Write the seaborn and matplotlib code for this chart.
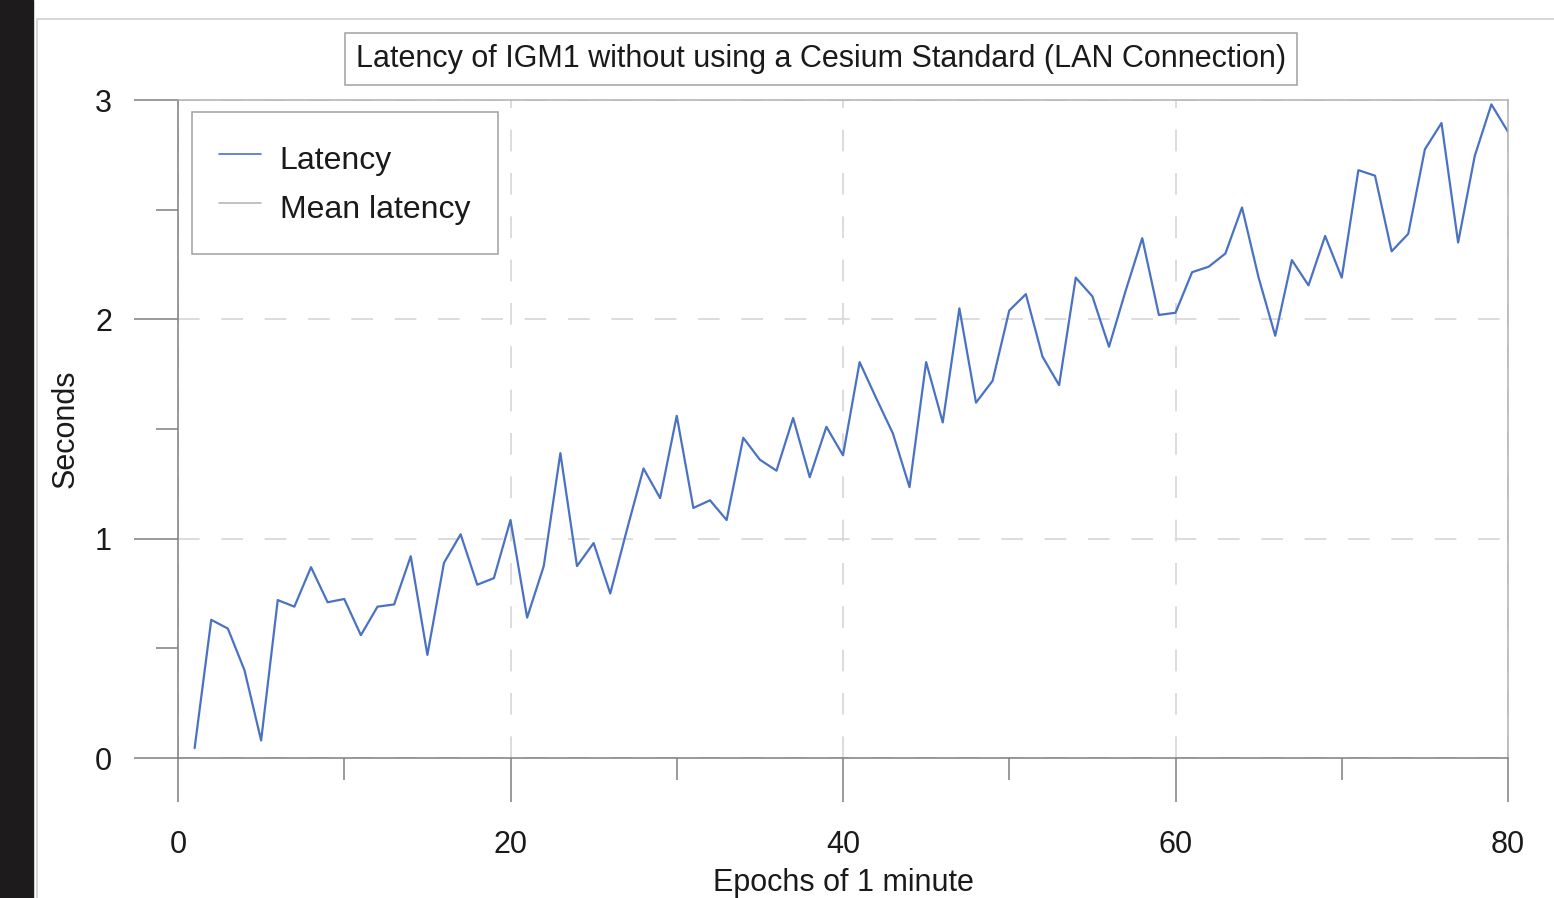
import matplotlib
matplotlib.use("Agg")
import matplotlib.pyplot as plt
from matplotlib.lines import Line2D
from matplotlib.patches import Rectangle
import seaborn as sns
import pandas as pd

# ---- data ----
epochs = list(range(1, 81))
latency = [0.045, 0.63, 0.59, 0.40, 0.08, 0.72, 0.69, 0.87, 0.71, 0.725,
           0.56, 0.69, 0.70, 0.92, 0.47, 0.89, 1.02, 0.79, 0.82, 1.085,
           0.64, 0.875, 1.39, 0.875, 0.98, 0.75, 1.04, 1.32, 1.185, 1.56,
           1.14, 1.175, 1.085, 1.46, 1.36, 1.31, 1.55, 1.28, 1.51, 1.38,
           1.805, 1.64, 1.48, 1.235, 1.805, 1.53, 2.05, 1.62, 1.72, 2.04,
           2.115, 1.83, 1.70, 2.19, 2.105, 1.875, 2.13, 2.37, 2.02, 2.03,
           2.215, 2.24, 2.30, 2.51, 2.19, 1.925, 2.27, 2.155, 2.38, 2.19,
           2.68, 2.655, 2.31, 2.39, 2.775, 2.895, 2.35, 2.745, 2.98, 2.855]
x_major_ticks = [0, 20, 40, 60, 80]
x_minor_ticks = [10, 30, 50, 70]
y_major_ticks = [0, 1, 2, 3]
y_minor_ticks = [0.5, 1.5, 2.5]
series_labels = ["Latency", "Mean latency"]
title = "Latency of IGM1 without using a Cesium Standard (LAN Connection)"
xlabel = "Epochs of 1 minute"
ylabel = "Seconds"

df = pd.DataFrame({"epoch": epochs, "latency": latency})

sns.set_theme(style="white")
plt.rcParams["font.family"] = ["Liberation Sans", "DejaVu Sans"]

W, H = 1554, 898
fig = plt.figure(figsize=(W / 100, H / 100), dpi=100, facecolor="white")
ax = fig.add_axes([178 / W, (H - 758) / H, (1508 - 178) / W, (758 - 100) / H])

blue = "#4a72c4"
light = "#d6d6d6"
txt = "#1a1a1a"
sns.lineplot(data=df, x="epoch", y="latency", ax=ax, color=blue,
             linewidth=1.6, legend=False)

ax.set_xlim(0, 80)
ax.set_ylim(0, 3)
ax.set_xticks(x_major_ticks)
ax.set_xticks(x_minor_ticks, minor=True)
ax.set_yticks(y_major_ticks)
ax.set_yticks(y_minor_ticks, minor=True)

tick_col = "#7f7f7f"
ax.tick_params(axis="both", which="both", bottom=True, left=True,
               top=False, right=False)
ax.tick_params(axis="both", which="major", direction="out", length=31.5,
               width=1.1, color=tick_col, labelsize=22, labelcolor=txt)
ax.tick_params(axis="both", which="minor", direction="out", length=15.5,
               width=1.1, color=tick_col)
ax.tick_params(axis="x", which="major", pad=20)
ax.tick_params(axis="y", which="major", pad=16)

for s in ["left", "bottom"]:
    ax.spines[s].set_color(tick_col)
    ax.spines[s].set_linewidth(1.1)
for s in ["top", "right"]:
    ax.spines[s].set_color("#b0b0b0")
    ax.spines[s].set_linewidth(1.1)

ax.grid(True, which="major", color=light, linewidth=1.2,
        linestyle=(0, (13, 13)))
ax.set_axisbelow(True)

ax.set_xlabel(xlabel, fontsize=22, color=txt, labelpad=6)
ax.set_ylabel(ylabel, fontsize=22, color=txt, labelpad=10)

ax.text((821 - 178) / 1330, (758 - 59) / 658, title, transform=ax.transAxes,
        fontsize=22, color=txt, ha="center", va="center",
        bbox=dict(boxstyle="square,pad=0.37", fc="white",
                  ec="#a0a0a0", lw=1.1))

handles = [Line2D([], [], color=blue, linewidth=1.2),
           Line2D([], [], color="#b8b8b8", linewidth=1.2)]
leg = ax.legend(handles, series_labels, loc="upper left",
                bbox_to_anchor=((192 - 178) / 1330, (758 - 112) / 658),
                borderaxespad=0, fontsize=23, frameon=True, fancybox=False,
                handlelength=1.3, handleheight=1.5, handletextpad=0.6,
                labelspacing=0.3, borderpad=0.85, edgecolor="#a0a0a0",
                framealpha=1)
leg.get_frame().set_linewidth(1.1)
for t in leg.get_texts():
    t.set_color(txt)

# page decorations: dark strip and outer frame
fig.patches.append(Rectangle((0, 0), 33 / W, 1, transform=fig.transFigure,
                             color="#1d1b1b", zorder=-1))
fig.lines.append(Line2D([37 / W, 37 / W, 1], [0, (H - 19) / H, (H - 19) / H],
                        transform=fig.transFigure, color="#d0d0d0", lw=1.2))

fig.savefig("out.png", dpi=100, facecolor="white")
